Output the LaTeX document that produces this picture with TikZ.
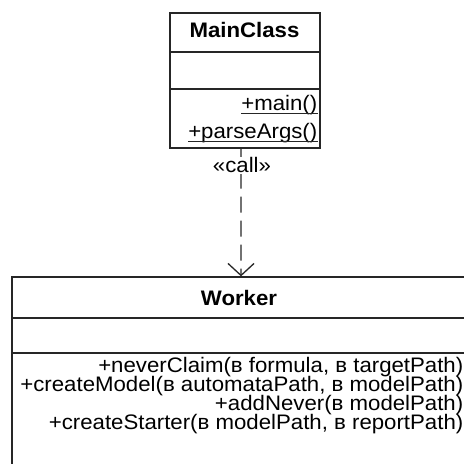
\documentclass[tikz,border=0pt]{standalone}
\usepackage{fontspec}
\setmainfont{Liberation Sans}[FakeStretch=1.058]
\usetikzlibrary{arrows.meta}

\newcommand\umlfont{\fontsize{21bp}{21bp}\selectfont}

\tikzset{
  umlline/.style={line width=1.3bp, draw=black!85},
  classbox/.style={umlline, rectangle, inner sep=0pt, fill=white},
  classtitle/.style={font=\umlfont\bfseries, inner sep=0pt},
  member/.style={font=\umlfont, inner sep=0pt},
  ulline/.style={line width=1.2bp, draw=black!85},
  dependency/.style={umlline, dash pattern=on 16bp off 8bp,
    -{Straight Barb[length=12bp, width=26bp]}},
}

\begin{document}
\begin{tikzpicture}[x=1bp, y=-1bp]
  \useasboundingbox (0,0) rectangle (464,464);
  \clip (0,0) rectangle (464,464);

  % class boxes
  \node[classbox, minimum width=150bp, minimum height=135bp] (main) at (245,80.5) {};
  \node[classbox, minimum width=454bp, minimum height=223bp] (worker) at (239,388.5) {};

  % compartment separators
  \draw[umlline] (main.west |- 0,52) -- (main.east |- 0,52);
  \draw[umlline] (main.west |- 0,89) -- (main.east |- 0,89);
  \draw[umlline] (worker.west |- 0,318) -- (worker.east |- 0,318);
  \draw[umlline] (worker.west |- 0,353) -- (worker.east |- 0,353);

  % MainClass
  \node[classtitle, anchor=base] (mainname) at (244.5,37.5) {MainClass};
  \node[member, anchor=base east] (mmain) at (317.5,111) {+main()};
  \node[member, anchor=base east] (mparse) at (317.5,139) {+parseArgs()};
  \draw[ulline] ([yshift=-2.5bp]mmain.base west) -- ([yshift=-2.5bp]mmain.base east);
  \draw[ulline] ([yshift=-2.8bp]mparse.base west) -- ([yshift=-2.8bp]mparse.base east);

  % Worker
  \node[classtitle, anchor=base] (wname) at (239,305) {Worker};
  \node[member, anchor=base east] (w1) at (463.5,372.5) {+neverClaim(в formula, в targetPath)};
  \node[member, anchor=base east] (w2) at (463.5,391.5) {+createModel(в automataPath, в modelPath)};
  \node[member, anchor=base east] (w3) at (463.5,410.5) {+addNever(в modelPath)};
  \node[member, anchor=base east] (w4) at (463.5,429.5) {+createStarter(в modelPath, в reportPath)};

  % call dependency
  \draw[dependency] ([xshift=-4bp]main.south) -- ([xshift=2bp]worker.north);
  \node[member, anchor=base, fill=white, inner sep=1bp] (calllbl) at (242,173) {«call»};
\end{tikzpicture}
\end{document}
